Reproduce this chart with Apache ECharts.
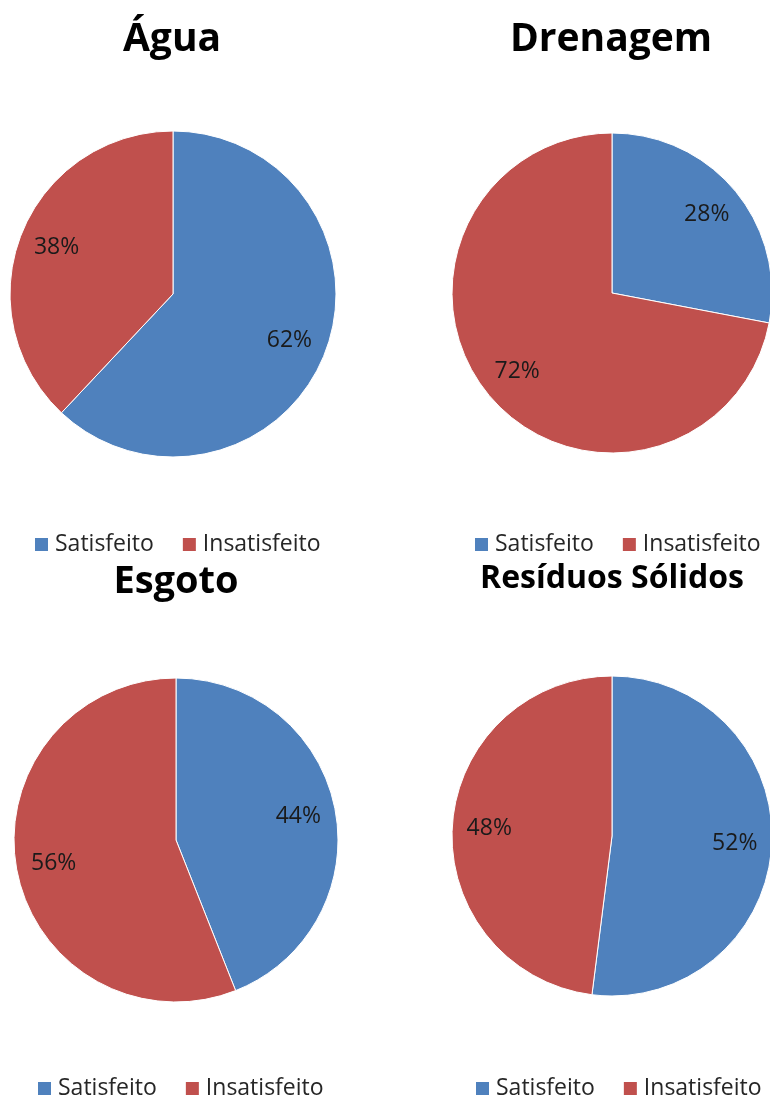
<!DOCTYPE html>
<html>
<head>
<meta charset="utf-8">
<script src="https://cdn.jsdelivr.net/npm/echarts@6/dist/echarts.min.js"></script>
<style>
  html, body { margin: 0; padding: 0; background: #fff; }
  #chart { width: 770px; height: 1101px; }
</style>
</head>
<body>
<div id="chart"></div>
<script>
// dados
const categories = ['Satisfeito', 'Insatisfeito']
const titles = ['Água', 'Drenagem', 'Esgoto', 'Resíduos Sólidos']
const agua = [62, 38]
const drenagem = [28, 72]
const esgoto = [44, 56]
const residuos = [52, 48]

const colors = ['#4F81BD', '#C0504D']
const font = 'Open Sans'

// layout of each quadrant: pie centre, radius, title and legend spots
const panels = [
  { values: agua, center: [173, 294], r: 163, titleX: 172, titleY: 20, titleSize: 39, legendX: 33, legendY: 533 },
  { values: drenagem, center: [612, 293], r: 160, titleX: 611, titleY: 20, titleSize: 39, legendX: 473, legendY: 533 },
  { values: esgoto, center: [176, 840], r: 162, titleX: 176, titleY: 563, titleSize: 38, legendX: 36, legendY: 1077 },
  { values: residuos, center: [612, 836], r: 160, titleX: 612, titleY: 563, titleSize: 32, legendX: 474, legendY: 1077 }
]

const toData = (values) => values.map((v, i) => ({
  name: categories[i],
  value: v,
  itemStyle: { color: colors[i] }
}))

const series = []
panels.forEach((p) => {
  series.push({
    type: 'pie',
    center: p.center,
    radius: [0, p.r],
    startAngle: 90,
    clockwise: true,
    silent: true,
    label: { show: false },
    labelLine: { show: false },
    itemStyle: { borderColor: '#ffffff', borderWidth: 1 },
    emphasis: { disabled: true },
    data: toData(p.values)
  })
})
// invisible twin pies so the inside labels land at ~0.75 of the radius
panels.forEach((p) => {
  series.push({
    type: 'pie',
    center: p.center,
    radius: [0, p.r * 1.5],
    startAngle: 90,
    clockwise: true,
    silent: true,
    itemStyle: { color: 'transparent', borderWidth: 0 },
    label: {
      show: true,
      position: 'inside',
      formatter: '{c}%',
      fontFamily: font,
      fontSize: 23,
      color: '#1a1a1a'
    },
    labelLine: { show: false },
    emphasis: { disabled: true },
    data: p.values.map((v, i) => ({ name: categories[i], value: v }))
  })
})

const chart = echarts.init(document.getElementById('chart'))
chart.setOption({
  animation: false,
  title: panels.map((p, i) => ({
    text: titles[i],
    left: p.titleX,
    top: p.titleY,
    padding: 0,
    textAlign: 'center',
    textVerticalAlign: 'top',
    textStyle: { fontFamily: font, fontWeight: 'bold', fontSize: p.titleSize, color: '#000' }
  })),
  legend: panels.map((p) => ({
    data: categories,
    left: p.legendX,
    top: p.legendY,
    padding: 0,
    icon: 'rect',
    itemWidth: 15,
    itemHeight: 15,
    itemGap: 27,
    selectedMode: false,
    textStyle: { fontFamily: font, fontSize: 23, color: '#262626', padding: [0, 0, 0, 1] }
  })),
  series: series
})
</script>
</body>
</html>
